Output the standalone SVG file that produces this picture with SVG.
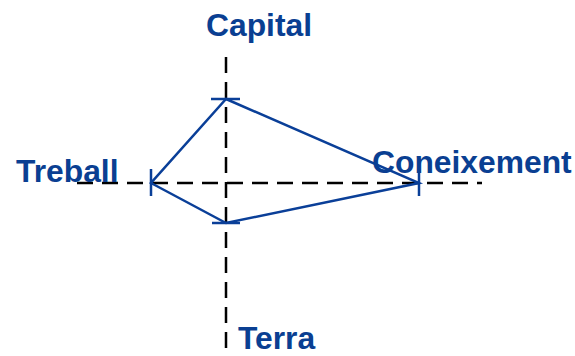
<svg xmlns="http://www.w3.org/2000/svg" width="575" height="356" viewBox="0 0 575 356">
<style>
.axis{stroke:#000;stroke-width:2.5;stroke-dasharray:16 9;fill:none}
.poly{stroke:#0a3f98;stroke-width:2.5;fill:none;stroke-linejoin:miter}
.tick{stroke:#0a3f98;stroke-width:2.5}
.lbl{font-family:"Liberation Sans",Arial,sans-serif;font-weight:bold;font-size:31.8px;fill:#0a3f92}
</style>
<rect width="575" height="356" fill="#fff"/>
<g id="connectors">
<line class="axis" x1="226" y1="57" x2="226" y2="354"/>
<line class="axis" x1="77" y1="183" x2="482" y2="183"/>
<polygon class="poly" points="226,99 419,183 226,223 151,183"/>
</g>
<g id="capital">
<line class="tick" x1="211" y1="99" x2="240" y2="99"/>
<text class="lbl" x="206" y="36">Capital</text>
</g>
<g id="treball">
<line class="tick" x1="151" y1="169" x2="151" y2="196"/>
<text class="lbl" x="16" y="182">Treball</text>
</g>
<g id="coneixement">
<line class="tick" x1="419" y1="169" x2="419" y2="196"/>
<text class="lbl" x="372" y="173">Coneixement</text>
</g>
<g id="terra">
<line class="tick" x1="212" y1="223" x2="240" y2="223"/>
<text class="lbl" x="238" y="349">Terra</text>
</g>
</svg>
